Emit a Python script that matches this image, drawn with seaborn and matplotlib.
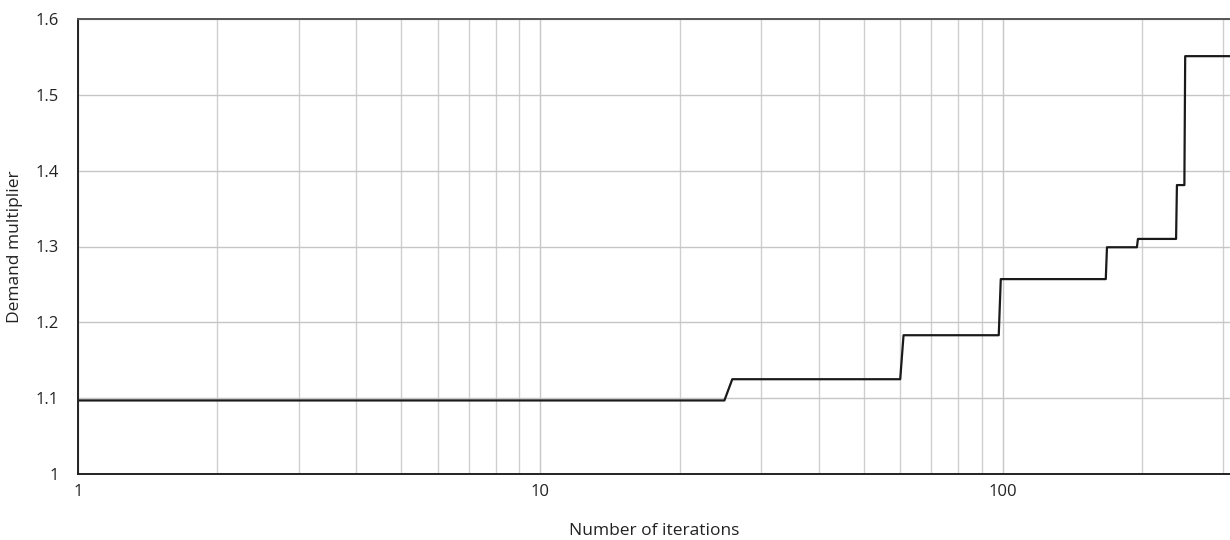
import matplotlib
matplotlib.use("Agg")
import matplotlib.pyplot as plt
import matplotlib.ticker as mticker
import seaborn as sns
import pandas as pd

iterations = [1, 25, 26, 60, 61, 98, 99, 167, 168, 195, 196, 237, 238, 247, 248, 310]
multiplier = [1.097, 1.097, 1.125, 1.125, 1.183, 1.183, 1.257, 1.257, 1.299,
              1.299, 1.310, 1.310, 1.381, 1.381, 1.551, 1.551]
y_ticks = [1.0, 1.1, 1.2, 1.3, 1.4, 1.5, 1.6]
y_tick_labels = ["1", "1.1", "1.2", "1.3", "1.4", "1.5", "1.6"]
x_ticks = [1, 10, 100]
x_tick_labels = ["1", "10", "100"]

df = pd.DataFrame({"Number of iterations": iterations, "Demand multiplier": multiplier})

sns.set_style("white")
plt.rcParams["font.family"] = ["Open Sans", "DejaVu Sans"]

fig = plt.figure(figsize=(12.3, 5.4), dpi=100)
ax = fig.add_axes([78 / 1230, 66 / 540, 1 - 78 / 1230, (474 - 19) / 540])

ax.set_xscale("log")
ax.set_xlim(1, 310)
ax.set_ylim(1.0, 1.6)

sns.lineplot(data=df, x="Number of iterations", y="Demand multiplier", ax=ax,
             color="#1a1a1a", linewidth=1.6, sort=False, estimator=None)

ax.xaxis.set_major_locator(mticker.FixedLocator(x_ticks))
ax.xaxis.set_minor_locator(mticker.LogLocator(base=10, subs=range(2, 10)))
ax.xaxis.set_minor_formatter(mticker.NullFormatter())
ax.set_xticks(x_ticks)
ax.set_xticklabels(x_tick_labels, fontsize=12, color="#222222")
ax.set_yticks(y_ticks)
ax.set_yticklabels(y_tick_labels, fontsize=12, color="#222222")

ax.grid(True, which="major", axis="both", color="#c6c6c6", linewidth=1.0)
ax.grid(True, which="minor", axis="x", color="#cfcfcf", linewidth=1.0)
ax.set_axisbelow(True)

for side in ["left", "bottom"]:
    ax.spines[side].set_color("#222222")
    ax.spines[side].set_linewidth(1.4)
ax.spines["top"].set_color("#555555")
ax.spines["top"].set_linewidth(1.4)
ax.spines["right"].set_visible(False)

ax.tick_params(axis="both", which="both", length=0)
ax.tick_params(axis="x", pad=7)
ax.tick_params(axis="y", pad=14)

ax.set_xlabel("Number of iterations", fontsize=12.5, color="#222222", labelpad=17)
ax.set_ylabel("Demand multiplier", fontsize=12.5, color="#222222", labelpad=9)

fig.savefig("out.png", dpi=100)
